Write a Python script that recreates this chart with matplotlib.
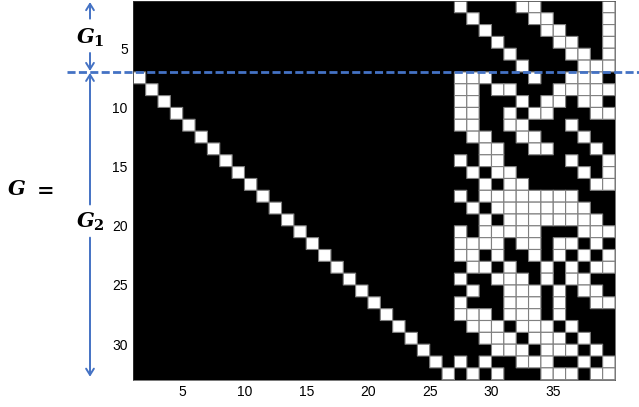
import numpy as np
import matplotlib
matplotlib.use("Agg")
import matplotlib.pyplot as plt
import matplotlib.transforms as mtransforms

plt.rcParams['font.family'] = ['Liberation Sans', 'DejaVu Sans']
plt.rcParams['mathtext.fontset'] = 'custom'
plt.rcParams['mathtext.it'] = 'DejaVu Serif:italic:bold'
plt.rcParams['mathtext.bf'] = 'DejaVu Serif:bold'
plt.rcParams['mathtext.rm'] = 'DejaVu Serif:bold'

# matriz G: 6 filas de G1 y 26 filas de G2, 39 columnas visibles
n_cols = 39
n_g1 = 6
right_start = 27   # primera columna del bloque derecho

# bloque derecho (columnas 27..39), 1 = celda blanca
g1_right = [
    "1000011000001",
    "0100001100001",
    "0010000110001",
    "0001000011001",
    "0000100001101",
    "0000010000111",
]
g2_right = [
    "1110001001110",
    "1101100011111",
    "1100010110110",
    "1100101100011",
    "1100110001000",
    "0110011000100",
    "0011001100010",
    "1011000001001",
    "0101100000101",
    "0010110000011",
    "1011111111000",
    "0101111111100",
    "0010111111110",
    "1011111000111",
    "1111011011010",
    "1101001010101",
    "0110100101011",
    "1001110101100",
    "0100111010110",
    "1000111010011",
    "1110111010000",
    "0111011101000",
    "0011101110100",
    "0001110111010",
    "1010011100101",
    "0101000111011",
]
# columna de la diagonal en cada fila de G2
g2_diag = [1, 2, 3, 4, 5, 6, 7, 8, 9, 10, 11, 12, 13,
           14, 15, 16, 17, 18, 19, 20, 21, 22, 23, 24, 25, 26]

xticks = [5, 10, 15, 20, 25, 30, 35]
yticks = [5, 10, 15, 20, 25, 30]

rows = g1_right + g2_right
n_rows = len(rows)
M = np.zeros((n_rows, n_cols))
for i, s in enumerate(rows):
    for j, ch in enumerate(s):
        if ch == '1':
            M[i, right_start - 1 + j] = 1
for k, c in enumerate(g2_diag):
    M[n_g1 + k, c - 1] = 1

W, H = 639, 407
fig = plt.figure(figsize=(W / 100, H / 100), dpi=100)
ax = fig.add_axes([133.3 / W, 1 - 379.7 / H, (615 - 133.3) / W, (379.7 - 0.9) / H])
ax.set_facecolor('black')

xe = np.arange(1, n_cols + 2)
ye = np.arange(1, n_rows + 2)
ax.pcolor(xe, ye, np.ma.masked_equal(M, 0), cmap='gray', vmin=0, vmax=1,
          edgecolors='#808080', linewidth=0.8)
ax.set_xlim(1, n_cols + 1)
ax.set_ylim(n_rows + 1, 1)
ax.set_xticks(xticks)
ax.set_yticks(yticks)
ax.tick_params(length=0, labelsize=10, colors='black')
ax.tick_params(axis='x', pad=3.5)
ax.tick_params(axis='y', pad=4)
for sp in ax.spines.values():
    sp.set_color('#404040')
    sp.set_linewidth(0.5)

# anotaciones en azul
azul = '#4472C4'
blend = mtransforms.blended_transform_factory(fig.transFigure, ax.transData)
y_corte = n_g1 + 1
ax.plot([67 / W, 1.0], [y_corte, y_corte], transform=blend, color=azul, lw=2,
        ls=(0, (2.9, 1.2)), clip_on=False, zorder=5)

xa = 90 / W
flecha = dict(arrowstyle='->,head_length=0.45,head_width=0.28', color=azul, lw=1.4,
              shrinkA=0, shrinkB=0)


def arrow(y0, y1):
    ax.annotate('', xy=(xa, y1), xytext=(xa, y0), xycoords=blend, textcoords=blend,
                arrowprops=flecha, annotation_clip=False)


arrow(2.5, 1.1)
arrow(5.4, y_corte - 0.08)
arrow(18.2, y_corte + 0.08)
arrow(21.0, n_rows + 0.75)

ax.text(xa, 4.15, r'$\mathit{G}_{\mathbf{1}}$', transform=blend, ha='center', va='center',
        fontsize=15, clip_on=False)
ax.text(xa, 19.7, r'$\mathit{G}_{\mathbf{2}}$', transform=blend, ha='center', va='center',
        fontsize=15, clip_on=False)
ax.text(7 / W, 16.97, r'$\mathit{G}$', transform=blend, ha='left', va='center',
        fontsize=15, clip_on=False)
ax.text(32 / W, 16.97, r'$\mathbf{=}$', transform=blend, ha='left', va='center',
        fontsize=15, clip_on=False)

fig.savefig('out.png', dpi=100)
